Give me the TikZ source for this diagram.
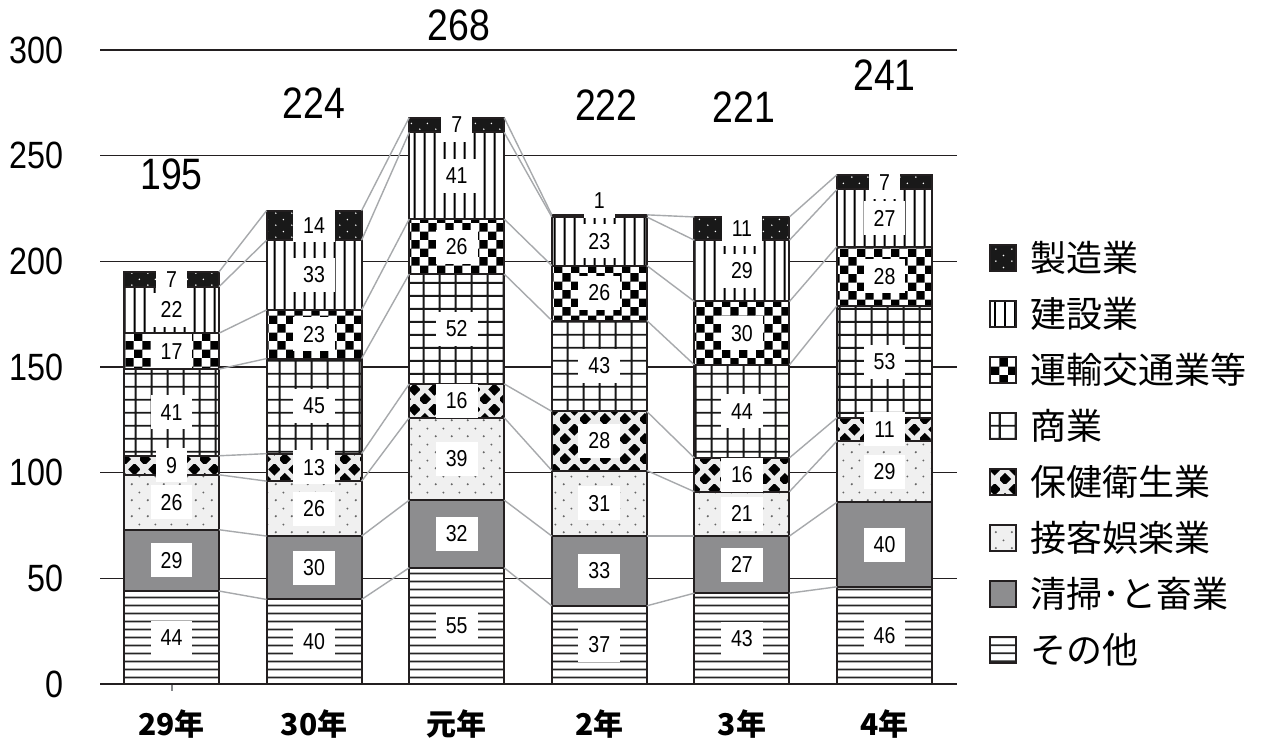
\documentclass[tikz,border=0pt]{standalone}
\usepackage{fontspec}
\setmainfont{Liberation Sans}
\newfontfamily\numf[FakeStretch=0.85]{Liberation Sans}
\newfontfamily\cjk{Noto Sans CJK JP}
\usetikzlibrary{patterns}
\definecolor{barg}{HTML}{8D8D8F}
\definecolor{gridc}{HTML}{231F20}
\definecolor{connc}{HTML}{A7A9AC}
\pgfdeclarepatternformonly{phl}{\pgfqpoint{0pt}{0pt}}{\pgfqpoint{40pt}{4pt}}{\pgfqpoint{40pt}{4pt}}{%
  \pgfpathrectangle{\pgfqpoint{-1pt}{1.5pt}}{\pgfqpoint{42pt}{1pt}}\pgfusepath{fill}}
\pgfdeclarepatternformonly{pvl}{\pgfqpoint{0pt}{0pt}}{\pgfqpoint{5pt}{40pt}}{\pgfqpoint{5pt}{40pt}}{%
  \pgfpathrectangle{\pgfqpoint{2pt}{-1pt}}{\pgfqpoint{1.1pt}{42pt}}\pgfusepath{fill}}
\pgfdeclarepatternformonly{pgrid}{\pgfqpoint{0pt}{0pt}}{\pgfqpoint{8pt}{6.5pt}}{\pgfqpoint{8pt}{6.5pt}}{%
  \pgfpathrectangle{\pgfqpoint{3.5pt}{-0.5pt}}{\pgfqpoint{1.1pt}{7.5pt}}
  \pgfpathrectangle{\pgfqpoint{-0.5pt}{2.8pt}}{\pgfqpoint{9pt}{1pt}}\pgfusepath{fill}}
\pgfdeclarepatternformonly{pcheck}{\pgfqpoint{0pt}{0pt}}{\pgfqpoint{8.4pt}{8.4pt}}{\pgfqpoint{8.4pt}{8.4pt}}{%
  \pgfpathrectangle{\pgfqpoint{0pt}{0pt}}{\pgfqpoint{4.2pt}{4.2pt}}
  \pgfpathrectangle{\pgfqpoint{4.2pt}{4.2pt}}{\pgfqpoint{4.2pt}{4.2pt}}\pgfusepath{fill}}
\pgfdeclarepatternformonly{pflow}{\pgfqpoint{0pt}{0pt}}{\pgfqpoint{10pt}{10pt}}{\pgfqpoint{10pt}{10pt}}{%
  \pgfpathmoveto{\pgfqpoint{2.5pt}{-0.7pt}}\pgfpathlineto{\pgfqpoint{5.7pt}{2.5pt}}\pgfpathlineto{\pgfqpoint{2.5pt}{5.7pt}}\pgfpathlineto{\pgfqpoint{-0.7pt}{2.5pt}}\pgfpathclose
  \pgfpathmoveto{\pgfqpoint{7.5pt}{4.3pt}}\pgfpathlineto{\pgfqpoint{10.7pt}{7.5pt}}\pgfpathlineto{\pgfqpoint{7.5pt}{10.7pt}}\pgfpathlineto{\pgfqpoint{4.3pt}{7.5pt}}\pgfpathclose
  \pgfusepath{fill}}
\pgfdeclarepatternformonly{pstip}{\pgfqpoint{0pt}{0pt}}{\pgfqpoint{8pt}{8pt}}{\pgfqpoint{8pt}{8pt}}{%
  \pgfpathcircle{\pgfqpoint{2pt}{2pt}}{0.6pt}
  \pgfpathcircle{\pgfqpoint{6pt}{6pt}}{0.55pt}\pgfusepath{fill}}
\pgfdeclarepatternformonly{pmfg}{\pgfqpoint{0pt}{0pt}}{\pgfqpoint{8pt}{6pt}}{\pgfqpoint{8pt}{6pt}}{%
  \pgfpathcircle{\pgfqpoint{2pt}{1.5pt}}{0.45pt}
  \pgfpathcircle{\pgfqpoint{6pt}{4.5pt}}{0.45pt}\pgfusepath{fill}}
\begin{document}
\begin{tikzpicture}[x=0.5pt,y=-0.5pt,
  seg1/.style={fill=white, postaction={pattern=phl, pattern color=black!85}},
  seg2/.style={fill=barg},
  seg3/.style={fill=gray!12, postaction={pattern=pstip, pattern color=black!60}},
  seg4/.style={fill=gray!15, postaction={pattern=pflow, pattern color=black}},
  seg5/.style={fill=white, postaction={pattern=pgrid, pattern color=black!90}},
  seg6/.style={fill=white, postaction={pattern=pcheck, pattern color=black}},
  seg7/.style={fill=white, postaction={pattern=pvl, pattern color=black}},
  seg8/.style={fill=black!90, postaction={pattern=pmfg, pattern color=white}},
  barline/.style={draw=gridc, line width=1pt},
  gridline/.style={draw=gridc, line width=0.8pt},
  conn/.style={draw=connc, line width=0.7pt},
  lbl/.style={fill=white, inner xsep=5pt, inner ysep=0pt, minimum height=17pt,
    text=black, font=\numf\fontsize{11.5}{12}\selectfont},
  axlbl/.style={anchor=east, inner sep=0pt, text=black, font=\numf\fontsize{19}{22}\selectfont},
  totlbl/.style={inner sep=0pt, text=black, font=\numf\fontsize{22}{24}\selectfont},
  yrlbl/.style={inner sep=0pt, text=black, font=\cjk\bfseries\fontsize{15}{18}\selectfont},
  legtxt/.style={anchor=west, inner sep=0pt, text=black, font=\cjk\fontsize{18}{20}\selectfont}]
\useasboundingbox (0,0) rectangle (1262,744);
\fill[white] (0,0) rectangle (1262,744);
% grid lines and axis labels
\foreach \g in {0,50,...,300} {
  \pgfmathsetmacro\gy{684-\g*2.1133}
  \draw[gridline] (100,\gy) -- (957,\gy);
  \node[axlbl] (ax\g) at (64,\gy) {\g};
}
% small tick artifact
\draw[connc!80!black, line width=0.7pt] (172,676) -- (172,691);
% bars
\foreach \i/\vals/\tot/\tdx/\ty/\yr in {
 0/{44,29,26,9,41,17,22,7}/195/0/174/29年,
 1/{40,30,26,13,45,23,33,14}/224/0/103/30年,
 2/{55,32,39,16,52,26,41,7}/268/2/25/元年,
 3/{37,33,31,28,43,26,23,1}/222/7/105/2年,
 4/{43,27,21,16,44,30,29,11}/221/2/107/3年,
 5/{46,40,29,11,53,28,27,7}/241/0/75/4年}{
  \pgfmathsetmacro\cx{171.5+142.6*\i}
  \xdef\cum{0}
  \coordinate (L\i-0) at (\cx-47.5,684);
  \coordinate (R\i-0) at (\cx+47.5,684);
  \foreach \v [count=\k] in \vals {
    \pgfmathsetmacro\ya{684-\cum*2.1133}
    \pgfmathsetmacro\nc{\cum+\v}
    \pgfmathsetmacro\yb{684-\nc*2.1133}
    \xdef\cum{\nc}
    \path[seg\k] (\cx-47.5,\ya) rectangle (\cx+47.5,\yb);
    \coordinate (L\i-\k) at (\cx-47.5,\yb);
    \coordinate (R\i-\k) at (\cx+47.5,\yb);
  }
  \foreach \k in {1,...,8} \draw[barline] (L\i-\k) -- (R\i-\k);
  \draw[barline] (L\i-0) rectangle (R\i-8);
  \xdef\cum{0}
  \foreach \v [count=\k] in \vals {
    \pgfmathsetmacro\ym{684-(\cum+\v/2)*2.1133-(\v==1)*15}
    \pgfmathsetmacro\nc{\cum+\v}
    \xdef\cum{\nc}
    \node[lbl] (v\i-\k) at (\cx,\ym) {\v};
  }
  \node[totlbl] (t\i) at (\cx+\tdx,\ty) {\tot};
  \node[yrlbl] (y\i) at (\cx,724) {\yr};
}
% connectors
\foreach \i [evaluate=\i as \j using int(\i+1)] in {0,...,4}
  \foreach \k in {1,...,8}
    \draw[conn] (R\i-\k) -- (L\j-\k);
% legend
\foreach \k/\t [count=\r from 0] in {8/製造業,7/建設業,6/運輸交通業等,5/商業,4/保健衛生業,3/接客娯楽業,2/清掃･と畜業,1/その他}{
  \pgfmathsetmacro\ly{258+56*\r}
  \path[seg\k] (990,\ly-13) rectangle (1016,\ly+13);
  \draw[barline] (990,\ly-13) rectangle (1016,\ly+13);
  \node[legtxt] (lg\k) at (1030,\ly) {\t};
}
\end{tikzpicture}
\end{document}
